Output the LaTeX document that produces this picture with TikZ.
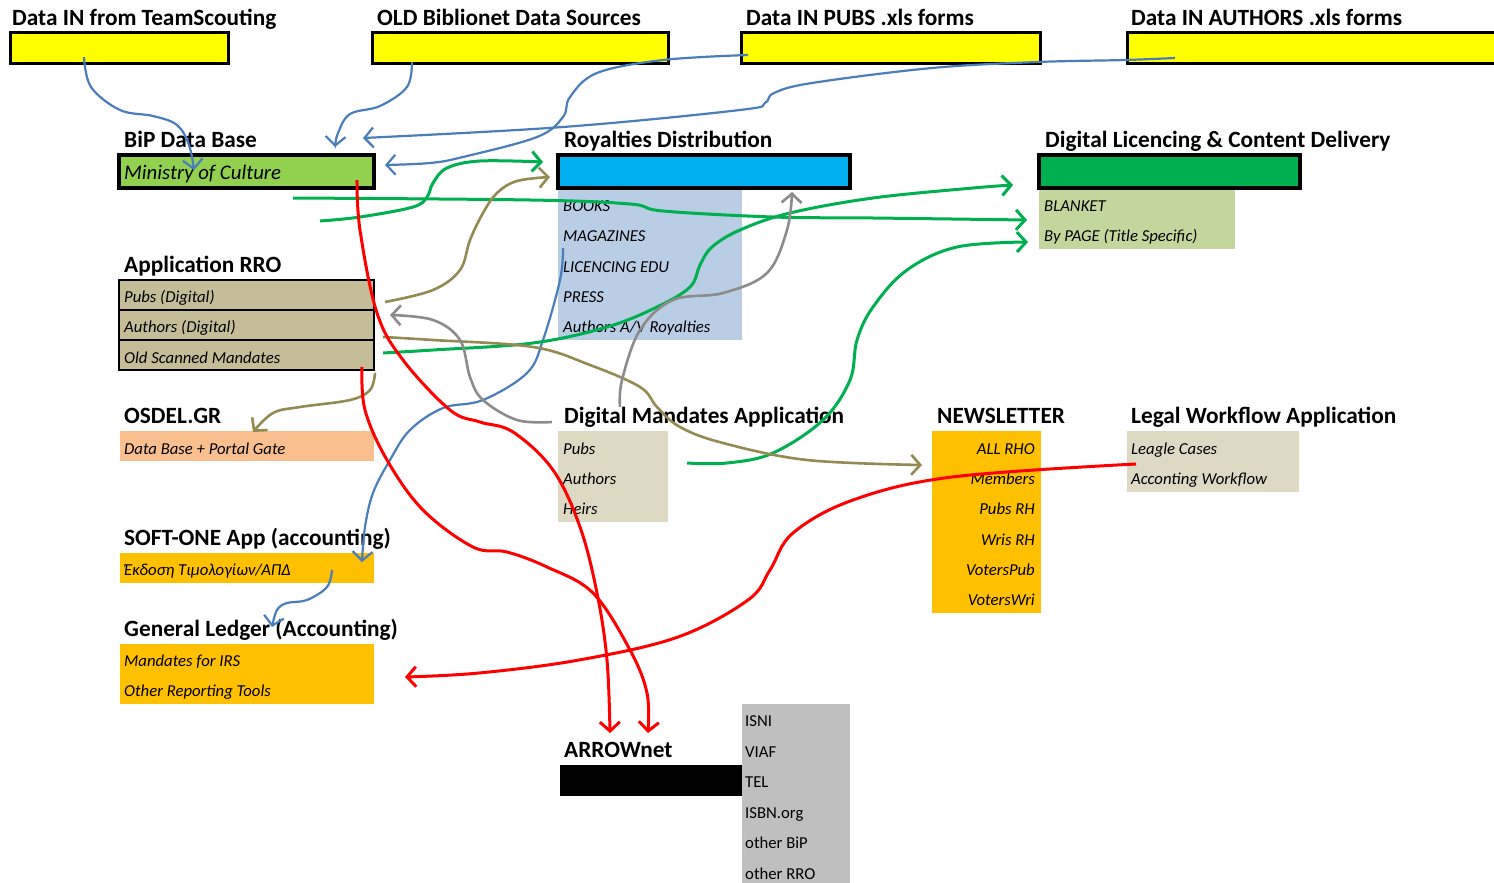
\documentclass[tikz,border=0pt]{standalone}
\usepackage{fontspec}
\setmainfont{Carlito}
\usetikzlibrary{arrows.meta}
\definecolor{cYel}{HTML}{FFFF00}
\definecolor{cBip}{HTML}{92D050}
\definecolor{cRoy}{HTML}{00B0F0}
\definecolor{cRoyL}{HTML}{B9CDE5}
\definecolor{cDlc}{HTML}{00B050}
\definecolor{cDlcL}{HTML}{C3D69B}
\definecolor{cTan}{HTML}{C4BD97}
\definecolor{cOsd}{HTML}{FABF8F}
\definecolor{cBeige}{HTML}{DDD9C3}
\definecolor{cOra}{HTML}{FFC000}
\definecolor{cGry}{HTML}{BFBFBF}
\definecolor{lBlue}{HTML}{4A7EBB}
\definecolor{lGreen}{HTML}{00B050}
\definecolor{lKhaki}{HTML}{948A54}
\definecolor{lGray}{HTML}{8C8C8C}
\definecolor{lRed}{HTML}{FF0000}
\tikzset{
  ttl/.style={anchor=base west, inner sep=0pt, font=\fontsize{23.3}{26}\selectfont\bfseries},
  itm/.style={anchor=base west, inner sep=0pt, font=\fontsize{16.7}{19}\selectfont\itshape},
  itmr/.style={itm, anchor=base east},
  itmu/.style={anchor=base west, inner sep=0pt, font=\fontsize{16.7}{19}\selectfont},
  bx/.style={rectangle, anchor=north west, inner sep=0pt, outer sep=0pt},
  ybox/.style={bx, fill=cYel, draw=black, line width=3pt},
  tbox/.style={bx, draw=black, line width=4.5pt},
  rbox/.style={bx, fill=cTan, draw=black, line width=2.5pt},
  flat/.style={bx},
  tipb/.style={-{Straight Barb[length=9pt,width=20pt]}},
  cb/.style={draw=lBlue, line width=2.2pt, tipb},
  cg/.style={draw=lGreen, line width=3pt, tipb},
  ck/.style={draw=lKhaki, line width=2.6pt, tipb},
  cy/.style={draw=lGray, line width=2.6pt, tipb},
  cr/.style={draw=lRed, line width=3pt, tipb},
  sm/.style={smooth, tension=0.6}
}
\begin{document}
\begin{tikzpicture}[x=1pt,y=-1pt]
\useasboundingbox[fill=white] (0,0) rectangle (1494,883);

% top yellow sources
\node[ttl] (t1) at (12,26) {Data IN from TeamScouting};
\node[ybox, minimum width=218pt, minimum height=31pt] (y1box) at (10,33) {};
\node[ttl] (t2) at (377,26) {OLD Biblionet Data Sources};
\node[ybox, minimum width=296pt, minimum height=31pt] (y2box) at (372,33) {};
\node[ttl] (t3) at (746,26) {Data IN PUBS .xls forms};
\node[ybox, minimum width=299pt, minimum height=31pt] (y3box) at (741,33) {};
\node[ttl] (t4) at (1131,26) {Data IN AUTHORS .xls forms};
\node[ybox, minimum width=373pt, minimum height=31pt] (y4box) at (1127,33) {};

% BiP
\node[ttl] (tbip) at (124,147) {BiP Data Base};
\node[tbox, fill=cBip, minimum width=255pt, minimum height=33pt] (bipbox) at (119,155) {};
\node[itm, font=\fontsize{20.8}{23}\selectfont\itshape] (bipi) at (124,179) {Ministry of Culture};

% Royalties
\node[ttl] (troy) at (564,147) {Royalties Distribution};
\node[flat, fill=cRoyL, minimum width=184pt, minimum height=152pt] (roylist) at (558,188) {};
\node[tbox, fill=cRoy, minimum width=292pt, minimum height=33pt] (roybox) at (558,155) {};
\node[itm] (r1) at (563,211) {BOOKS};
\node[itm] (r2) at (563,241) {MAGAZINES};
\node[itm] (r3) at (563,272) {LICENCING EDU};
\node[itm] (r4) at (563,302) {PRESS};
\node[itm] (r5) at (563,332) {Authors A/V Royalties};

% Digital licencing
\node[ttl] (tdlc) at (1045,147) {Digital Licencing \& Content Delivery};
\node[flat, fill=cDlcL, minimum width=196pt, minimum height=61pt] (dlclist) at (1039,188) {};
\node[tbox, fill=cDlc, minimum width=261pt, minimum height=33pt] (dlcbox) at (1039,155) {};
\node[itm] (d1) at (1044,211) {BLANKET};
\node[itm] (d2) at (1044,241) {By PAGE (Title Specific)};

% Application RRO
\node[ttl] (trro) at (124,272) {Application RRO};
\node[rbox, minimum width=255pt, minimum height=30pt] (rro1) at (119,280) {};
\node[rbox, minimum width=255pt, minimum height=30pt] (rro2) at (119,310) {};
\node[rbox, minimum width=255pt, minimum height=30pt] (rro3) at (119,340) {};
\node[itm] (a1) at (124,302) {Pubs (Digital)};
\node[itm] (a2) at (124,332) {Authors (Digital)};
\node[itm] (a3) at (124,363) {Old Scanned Mandates};

% OSDEL
\node[ttl] (tosd) at (124,423) {OSDEL.GR};
\node[flat, fill=cOsd, minimum width=254pt, minimum height=30pt] (osdbox) at (120,431) {};
\node[itm] (o1) at (124,454) {Data Base + Portal Gate};

% Digital Mandates
\node[ttl] (tdma) at (564,423) {Digital Mandates Application};
\node[flat, fill=cBeige, minimum width=110pt, minimum height=91pt] (dmabox) at (558,431) {};
\node[itm] (m1) at (563,454) {Pubs};
\node[itm] (m2) at (563,484) {Authors};
\node[itm] (m3) at (563,514) {Heirs};

% Newsletter
\node[ttl] (tnews) at (937,423) {NEWSLETTER};
\node[flat, fill=cOra, minimum width=109pt, minimum height=182pt] (newsbox) at (932,431) {};
\node[itmr] (n1) at (1035,454) {ALL RHO};
\node[itmr] (n2) at (1035,484) {Members};
\node[itmr] (n3) at (1035,514) {Pubs RH};
\node[itmr] (n4) at (1035,545) {Wris RH};
\node[itmr] (n5) at (1035,575) {VotersPub};
\node[itmr] (n6) at (1035,605) {VotersWri};

% Legal
\node[ttl] (tleg) at (1131,423) {Legal Workflow Application};
\node[flat, fill=cBeige, minimum width=172pt, minimum height=61pt] (legbox) at (1127,431) {};
\node[itm] (l1) at (1131,454) {Leagle Cases};
\node[itm] (l2) at (1131,484) {Acconting Workflow};

% SOFT-ONE
\node[ttl] (tsoft) at (124,545) {SOFT-ONE App (accounting)};
\node[flat, fill=cOra, minimum width=254pt, minimum height=30pt] (softbox) at (120,553) {};
\node[itm] (s1) at (124,575) {Έκδοση Τιμολογίων/ΑΠΔ};

% General Ledger
\node[ttl] (tgl) at (124,636) {General Ledger (Accounting)};
\node[flat, fill=cOra, minimum width=254pt, minimum height=60pt] (glbox) at (120,644) {};
\node[itm] (g1) at (124,666) {Mandates for IRS};
\node[itm] (g2) at (124,696) {Other Reporting Tools};

% ARROWnet
\node[ttl] (tarr) at (564,757) {ARROWnet};
\node[flat, fill=black, minimum width=182pt, minimum height=31pt] (arrbox) at (560,765) {};
\node[flat, fill=cGry, minimum width=108pt, minimum height=179pt] (arrlist) at (742,704) {};
\node[itmu] (w1) at (745,726) {ISNI};
\node[itmu] (w2) at (745,757) {VIAF};
\node[itmu] (w3) at (745,787) {TEL};
\node[itmu] (w4) at (745,818) {ISBN.org};
\node[itmu] (w5) at (745,848) {other BiP};
\node[itmu] (w6) at (745,879) {other RRO};

% connector end points
\coordinate (b1s) at (84,57);   \coordinate (b1e) at (194,170);
\coordinate (b2s) at (412,62);  \coordinate (b2e) at (335,147);
\coordinate (b3s) at (1175,58); \coordinate (b3e) at (363,138);
\coordinate (b4s) at (748,55);  \coordinate (b4e) at (385,165);
\coordinate (b5s) at (563,248); \coordinate (b5e) at (362,562);
\coordinate (b6s) at (332,570); \coordinate (b6e) at (272,627);
\coordinate (g1s) at (293,198); \coordinate (g1e) at (1027,220);
\coordinate (g2s) at (320,221); \coordinate (g2e) at (543,162);
\coordinate (g3s) at (383,353); \coordinate (g3e) at (1013,185);
\coordinate (g4s) at (687,463); \coordinate (g4e) at (1028,242);
\coordinate (k1s) at (385,302); \coordinate (k1e) at (550,177);
\coordinate (k2s) at (383,337); \coordinate (k2e) at (922,465);
\coordinate (k3s) at (375,373); \coordinate (k3e) at (253,432);
\coordinate (y1s) at (552,422); \coordinate (y1e) at (390,315);
\coordinate (y2s) at (620,407); \coordinate (y2e) at (792,192);
\coordinate (r1s) at (357,180); \coordinate (r1e) at (610,733);
\coordinate (r2s) at (362,367); \coordinate (r2e) at (648,733);
\coordinate (r3s) at (1136,464); \coordinate (r3e) at (405,677);

% blue
\draw[cb] plot[sm] coordinates {(b1s) (91,87) (120,110) (153,116) (177,125) (189,145) (b1e)};
\draw[cb] plot[sm] coordinates {(b2s) (407,87) (380,106) (350,114) (338,133) (b2e)};
\draw[cb] plot[sm] coordinates {(b3s) (1125,60) (1038,62) (932,68) (812,83) (774,93) (765,103) (740,110) (563,127) (b3e)};
\draw[cb] plot[sm] coordinates {(b4s) (663,60) (597,73) (570,97) (563,117) (537,137) (463,157) (430,163) (b4e)};
\draw[cb] plot[sm] coordinates {(b5s) (560,280) (543,340) (527,373) (483,400) (443,408) (410,430) (390,460) (373,493) (365,527) (b5e)};
\draw[cb] plot[sm] coordinates {(b6s) (327,587) (307,600) (287,603) (277,610) (b6e)};
% green
\draw[cg] plot[sm] coordinates {(g1s) (530,200) (630,204) (663,211) (773,217) (873,218) (g1e)};
\draw[cg] plot[sm] coordinates {(g2s) (360,217) (413,207) (427,197) (433,183) (447,168) (480,161) (g2e)};
\draw[cg] plot[sm] coordinates {(g3s) (433,350) (533,343) (607,327) (657,307) (690,287) (700,265) (712,247) (740,230) (790,213) (873,198) (973,188) (g3e)};
\draw[cg] plot[sm] coordinates {(g4s) (727,463) (773,453) (823,420) (850,380) (857,340) (873,307) (907,270) (957,247) (g4e)};
% khaki
\draw[ck] plot[sm] coordinates {(k1s) (433,290) (460,270) (470,240) (483,213) (497,193) (517,181) (k1e)};
\draw[ck] plot[sm] coordinates {(k2s) (433,340) (533,347) (590,365) (640,387) (657,407) (680,427) (723,443) (807,460) (k2e)};
\draw[ck] plot[sm] coordinates {(k3s) (370,390) (350,400) (300,407) (273,413) (k3e)};
% gray
\draw[cy] plot[sm] coordinates {(y1s) (517,420) (483,400) (470,377) (460,340) (433,320) (y1e)};
\draw[cy] plot[sm] coordinates {(y2s) (622,380) (640,330) (673,300) (723,293) (767,273) (787,230) (y2e)};
% red
\draw[cr] plot[sm] coordinates {(r1s) (360,230) (377,313) (403,360) (450,410) (480,422) (513,432) (553,470) (580,527) (597,593) (607,660) (r1e)};
\draw[cr] plot[sm] coordinates {(r2s) (365,410) (387,460) (423,510) (473,547) (507,552) (547,567) (593,593) (630,650) (647,693) (r2e)};
\draw[cr] plot[sm] coordinates {(r3s) (952,477) (853,500) (793,533) (770,570) (748,600) (678,637) (579,660) (479,673) (r3e)};
\end{tikzpicture}
\end{document}
